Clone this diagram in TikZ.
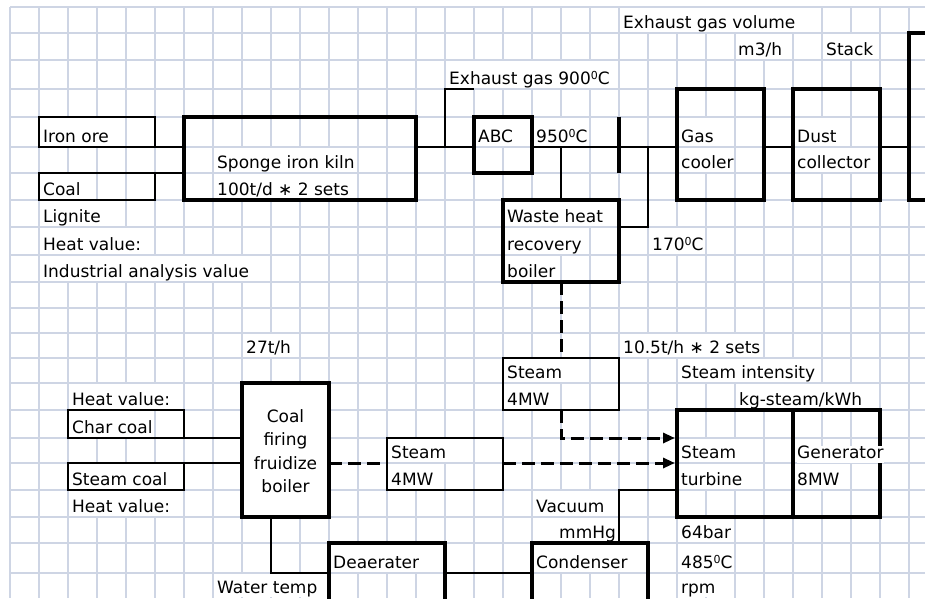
\documentclass[tikz,border=0pt]{standalone}
\usepackage{fontspec}
\setmainfont{DejaVu Sans}
\usetikzlibrary{arrows.meta,fit}
\pgfdeclarelayer{gridlayer}
\pgfdeclarelayer{masklayer}
\pgfsetlayers{gridlayer,masklayer,main}
\definecolor{gridc}{RGB}{206,213,228}
\newcommand\degz{\raisebox{4.8pt}{\fontsize{11}{11}\selectfont 0}}
\newcommand\lab[5]{%
  \node[lbl] (#1) at (#2,#4-4.5) {#5};
  \begin{pgfonlayer}{masklayer}
    \fill[white] (#1.west |- 0,#3+0.9) rectangle (#1.east |- 0,#4-0.9);
  \end{pgfonlayer}}
\newcommand\labtop[5]{%
  \node[lbl, fill=white, text height=13pt, text depth=4pt] (#1) at (#2,#4-4.5) {#5};}
\tikzset{
  gridline/.style={draw=gridc, line width=1.6pt},
  lbl/.style={anchor=base west, inner sep=0pt, font=\fontsize{17}{20}\selectfont},
  clbl/.style={anchor=base, inner sep=0pt, font=\fontsize{17}{20}\selectfont},
  thickbox/.style={draw, line width=4pt, inner sep=0pt, outer sep=0pt},
  thinbox/.style={draw, line width=2pt, inner sep=0pt, outer sep=0pt},
  conn/.style={line width=2pt},
  barline/.style={line width=4pt},
  dconn/.style={line width=3pt, dash pattern=on 13pt off 6pt},
  arr/.style={-{Triangle[length=12pt,width=10pt]}},
}
\begin{document}
\begin{tikzpicture}[x=1pt,y=-1pt]
\useasboundingbox (0,0) rectangle (925,598);
% grid
\begin{pgfonlayer}{gridlayer}
  \fill[white] (0,0) rectangle (925,598);
  \foreach \i in {0,...,31} \draw[gridline] (10+29*\i,7) -- (10+29*\i,598);
  \foreach \y in {7,33,60,89,117,147,173,200,227,255,282,308,333,358,383,410,438,463,490,517,543,573}
    \draw[gridline] (10,\y) -- (925,\y);
\end{pgfonlayer}
\begin{scope}
\clip (0,0) rectangle (925,598);
% boxes
\node[thinbox, fit={(39,117)(155,147)}] (ironore) {};
\node[thinbox, fit={(39,173)(155,200)}] (coal) {};
\node[thickbox, fit={(184,117)(416,200)}] (kiln) {};
\node[thickbox, fit={(474,117)(532,173)}] (abc) {};
\node[thickbox, fit={(503,200)(619,282)}] (whrb) {};
\node[thickbox, fit={(677,89)(764,200)}] (cooler) {};
\node[thickbox, fit={(793,89)(880,200)}] (dust) {};
\node[thickbox, fit={(909,33)(980,200)}] (stack) {};
\node[thinbox, fit={(503,358)(619,410)}] (steamA) {};
\node[thinbox, fit={(387,438)(503,490)}] (steamB) {};
\node[thickbox, fill=white, fit={(242,383)(329,517)}] (boiler) {};
\node[thinbox, fit={(68,410)(184,438)}] (char) {};
\node[thinbox, fit={(68,463)(184,490)}] (scoal) {};
\node[thickbox, fit={(677,410)(793,517)}] (turbine) {};
\node[thickbox, fit={(793,410)(880,517)}] (gen) {};
\node[thickbox, fit={(329,543)(445,640)}] (deaer) {};
\node[thickbox, fit={(532,543)(648,640)}] (cond) {};
% junction coordinates
\coordinate (j1) at (445,147);
\coordinate (exh) at (445,89);
\coordinate (barT) at (619,117);
\coordinate (barB) at (619,173);
\coordinate (j2) at (648,147);
\coordinate (j3) at (648,227);
\coordinate (b1) at (271,573);
\coordinate (t1) at (619,490);
% connectors
\draw[conn] (ironore.south east) -- (ironore.south east -| kiln.west);
\draw[conn] (coal.north east) -- (coal.north east -| kiln.west);
\draw[conn] (kiln.east |- ironore.south) -- (abc.west |- ironore.south);
\draw[conn] (j1) -- (exh) -- (exh -| abc.west);
\draw[conn] (abc.east |- ironore.south) -- (cooler.west |- ironore.south);
\draw[barline] (barT) -- (barB);
\draw[conn] (whrb.north |- ironore.south) -- (whrb.north);
\draw[conn] (j2) -- (j3) -- (j3 -| whrb.east);
\draw[conn] (cooler.east |- ironore.south) -- (dust.west |- ironore.south);
\draw[conn] (dust.east |- ironore.south) -- (stack.west |- ironore.south);
\draw[dconn] (whrb.south) -- (steamA.north);
\draw[dconn, arr] (steamA.south) -- (steamA.south |- char.south) -- ([xshift=-2pt]turbine.west |- char.south);
\draw[dconn] (boiler.east |- scoal.north) -- (steamB.west |- scoal.north);
\draw[dconn, arr] (steamB.east |- scoal.north) -- ([xshift=-2pt]turbine.west |- scoal.north);
\draw[conn] (char.south east) -- (char.south east -| boiler.west);
\draw[conn] (scoal.north east) -- (scoal.north east -| boiler.west);
\draw[conn] (boiler.south -| b1) -- (b1) -- (b1 -| deaer.west);
\draw[conn] (deaer.east |- b1) -- (cond.west |- b1);
\draw[conn] (turbine.west |- t1) -- (t1) -- (t1 |- cond.north);
% labels
\lab{l1}{623}{7}{33}{Exhaust gas volume}
\lab{l2}{738}{33}{60}{m3/h}
\lab{l3}{826}{33}{60}{Stack}
\lab{l4}{449}{60}{89}{Exhaust gas 900\degz C}
\lab{l5}{43}{117}{147}{Iron ore}
\lab{l6}{478}{117}{147}{ABC}
\lab{l7}{536}{117}{147}{950\degz C}
\lab{l8}{681}{117}{147}{Gas}
\lab{l9}{797}{117}{147}{Dust}
\lab{l10}{217}{147}{173}{Sponge iron kiln}
\lab{l11}{681}{147}{173}{cooler}
\lab{l12}{797}{147}{173}{collector}
\lab{l13}{43}{173}{200}{Coal}
\lab{l14}{217}{173}{200}{100t/d ∗ 2 sets}
\lab{l15}{43}{200}{227}{Lignite}
\lab{l16}{507}{200}{227}{Waste heat}
\lab{l17}{43}{227}{255}{Heat value:}
\lab{l18}{507}{227}{255}{recovery}
\lab{l19}{652}{227}{255}{170\degz C}
\lab{l20}{43}{255}{282}{Industrial analysis value}
\lab{l21}{507}{255}{282}{boiler}
\lab{l22}{246}{333}{358}{27t/h}
\lab{l23}{623}{333}{358}{10.5t/h ∗ 2 sets}
\lab{l24}{507}{358}{383}{Steam}
\lab{l25}{681}{358}{383}{Steam intensity}
\lab{l26}{72}{383}{410}{Heat value:}
\lab{l27}{507}{383}{410}{4MW}
\lab{l28}{739}{383}{410}{kg-steam/kWh}
\lab{l29}{72}{410}{438}{Char coal}
\lab{l30}{391}{438}{463}{Steam}
\lab{l31}{681}{438}{463}{Steam}
\labtop{l32}{797}{438}{463}{Generator}
\lab{l33}{72}{463}{490}{Steam coal}
\lab{l34}{391}{463}{490}{4MW}
\lab{l35}{681}{463}{490}{turbine}
\lab{l36}{797}{463}{490}{8MW}
\lab{l37}{72}{490}{517}{Heat value:}
\lab{l38}{536}{490}{517}{Vacuum}
\lab{l39}{559}{517}{543}{mmHg}
\lab{l40}{681}{517}{543}{64bar}
\lab{l41}{333}{543}{573}{Deaerater}
\lab{l42}{536}{543}{573}{Condenser}
\lab{l43}{681}{543}{573}{485\degz C}
\lab{l44}{217}{573}{598}{Water temp}
\lab{l45}{681}{573}{598}{rpm}
% boiler text
\node[clbl] (bt1) at (285.5,422) {Coal};
\node[clbl] (bt2) at (285.5,445.5) {firing};
\node[clbl] (bt3) at (285.5,469) {fruidize};
\node[clbl] (bt4) at (285.5,492.5) {boiler};
\end{scope}
\end{tikzpicture}
\end{document}
